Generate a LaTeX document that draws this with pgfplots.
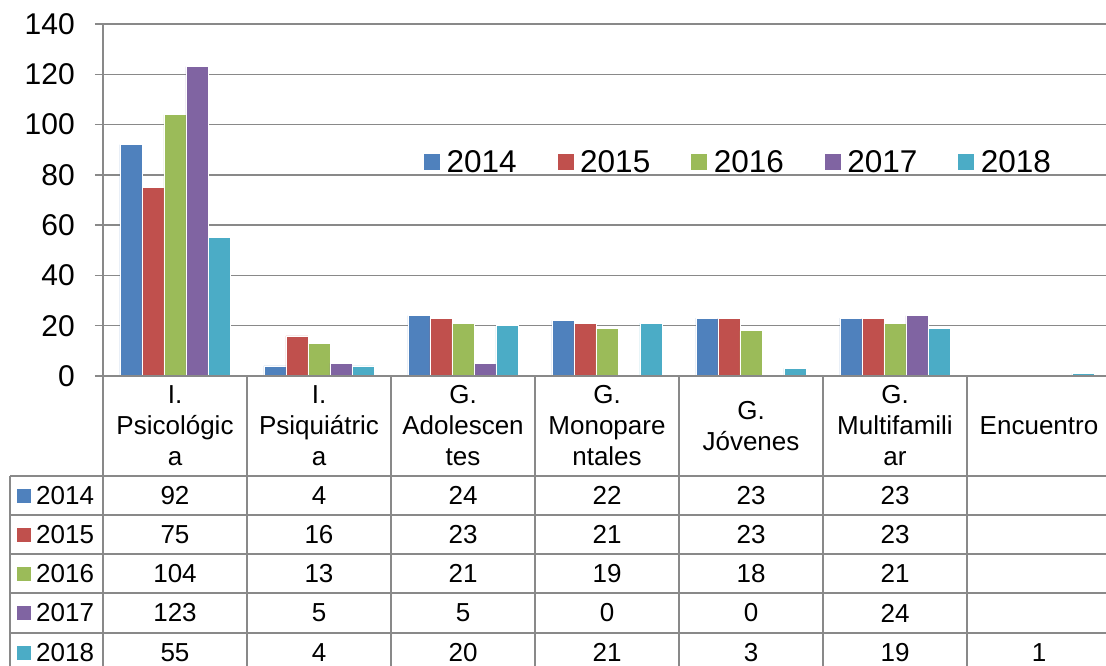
\documentclass[border=0pt]{standalone}
\usepackage{pgfplots}
\pgfplotsset{compat=1.18}
\usepackage{fontspec}
\setmainfont{Liberation Sans}
\definecolor{c14}{HTML}{4F81BD}
\definecolor{c15}{HTML}{C0504D}
\definecolor{c16}{HTML}{9BBB59}
\definecolor{c17}{HTML}{8064A2}
\definecolor{c18}{HTML}{4BACC6}
\definecolor{gg}{RGB}{137,137,137}
\newcommand{\tabfont}{\fontsize{26}{31}\selectfont}
\begin{document}
\begin{tikzpicture}
\path[use as bounding box] (0pt,0pt) rectangle (1106pt,-666pt);
\begin{axis}[
  at={(103pt,-376pt)}, anchor=south west,
  scale only axis, width=1003pt, height=352pt,
  xmin=-0.5, xmax=6.465, ymin=0, ymax=140,
  ytick={0,20,...,140}, xtick=\empty,
  axis y line*=left, axis x line*=bottom,
  axis line style={-, gg, line width=1.5pt},
  ymajorgrids, grid style={gg, line width=1.5pt},
  tick align=outside, major tick length=8pt,
  ytick style={gg, line width=1.5pt},
  /pgf/number format/assume math mode=true,
  yticklabel style={anchor=east, inner sep=0pt, xshift=-20pt, font=\fontsize{30}{36}\selectfont},
  ybar=0pt, bar width=22pt,
  legend style={at={(0.319,0.608)}, anchor=west, draw=none, fill=none,
    inner sep=0pt, nodes={inner sep=0pt}, font=\fontsize{31.5}{36}\selectfont,
    /tikz/every odd column/.append style={column sep=6pt},
    /tikz/every even column/.append style={column sep=40pt}},
  legend columns=5,
  legend image code/.code={\fill[#1] (0pt,-8.5pt) rectangle (17pt,8.5pt);},
]
\addplot[fill=c14, draw=white, line width=0.5pt] coordinates {(0,92) (1,4) (2,24) (3,22) (4,23) (5,23)};
\addplot[fill=c15, draw=white, line width=0.5pt] coordinates {(0,75) (1,16) (2,23) (3,21) (4,23) (5,23)};
\addplot[fill=c16, draw=white, line width=0.5pt] coordinates {(0,104) (1,13) (2,21) (3,19) (4,18) (5,21)};
\addplot[fill=c17, draw=white, line width=0.5pt] coordinates {(0,123) (1,5) (2,5) (3,0) (4,0) (5,24)};
\addplot[fill=c18, draw=white, line width=0.5pt] coordinates {(0,55) (1,4) (2,20) (3,21) (4,3) (5,19) (6,1)};
\legend{2014,2015,2016,2017,2018}
\end{axis}
\begin{scope}[x=1pt,y=-1pt]
\draw[gg, line width=1.5pt] (95,376) -- (1106,376);
\foreach \y in {476,515,554,593,633} \draw[gg, line width=1.5pt] (10,\y) -- (1106,\y);
\foreach \x in {103,247,391,535,679,823,967} \draw[gg, line width=1.5pt] (\x,376) -- (\x,666);
\draw[gg, line width=1.5pt] (10,476) -- (10,666);
\begin{scope}[every node/.style={font=\tabfont, align=center, inner sep=0pt}]
\node at (175,426) {I.\\Psicológic\\a};
\node at (319,426) {I.\\Psiquiátric\\a};
\node at (463,426) {G.\\Adolescen\\tes};
\node at (607,426) {G.\\Monopare\\ntales};
\node at (751,426) {G.\\Jóvenes};
\node at (895,426) {G.\\Multifamili\\ar};
\node at (1039,426) {Encuentro};
\foreach \v [count=\i from 0] in {92,4,24,22,23,23} \node at ({175+144*\i},495.5) {\v};
\foreach \v [count=\i from 0] in {75,16,23,21,23,23} \node at ({175+144*\i},534.5) {\v};
\foreach \v [count=\i from 0] in {104,13,21,19,18,21} \node at ({175+144*\i},573.5) {\v};
\foreach \v [count=\i from 0] in {123,5,5,0,0,24} \node at ({175+144*\i},613) {\v};
\foreach \v [count=\i from 0] in {55,4,20,21,3,19,1} \node at ({175+144*\i},652.5) {\v};
\foreach \c/\yr/\yy in {c14/2014/495.5, c15/2015/534.5, c16/2016/573.5, c17/2017/613, c18/2018/652.5}{
  \fill[\c] (17,\yy-7) rectangle (31,\yy+7);
  \node[anchor=west] at (36,\yy) {\yr};
}
\end{scope}
\end{scope}
\end{tikzpicture}
\end{document}
